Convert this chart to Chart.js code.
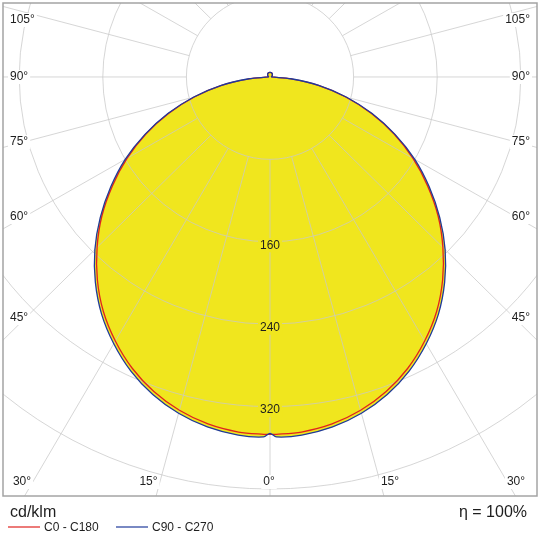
<!DOCTYPE html>
<html>
<head>
<meta charset="utf-8">
<script src="https://cdn.jsdelivr.net/npm/chart.js@4.4.1/dist/chart.umd.min.js"></script>
<style>
  html, body { margin: 0; padding: 0; background: #fff; }
</style>
</head>
<body>
<canvas id="polarChart" width="540" height="533"></canvas>
<script>
// Luminous intensity diagram (cd/klm)
// gamma = angle from nadir in degrees, both halves drawn mirrored
var gammaAngles = [0, 1, 5, 10, 15, 20, 25, 30, 35, 40, 45, 50, 55, 60, 65, 70, 75, 80, 85, 90, 105, 120, 135, 150, 165, 180];
var c0c180 =      [347, 347, 346, 342, 335, 325, 312, 296, 278, 257, 234, 210, 184, 158, 131, 103, 75, 47, 19, 1.5, 1.5, 2.5, 3.2, 4, 4.3, 4.5];
var c90c270 =     [346, 349.5, 349, 345, 338, 328, 315, 299, 281, 260, 237, 212, 186, 160, 132, 104, 76, 48, 20, 1.5, 1.5, 2.5, 3.2, 4, 4.3, 4.5];

var ringValues = [80, 160, 240, 320, 400];
var ringLabelValues = [160, 240, 320];
var spokeStep = 15;
var sideLabels = ['105°', '90°', '75°', '60°', '45°'];
var bottomLabels = ['30°', '15°', '0°', '15°', '30°'];
var seriesNames = ['C0 - C180', 'C90 - C270'];
var unitLabel = 'cd/klm';
var efficiencyLabel = 'η = 100%';

var fillColor = '#f0e61e';
var redColor = '#e0231f';
var blueColor = '#1f3a9a';
var gridColor = 'rgba(200,200,200,0.75)';
var textColor = '#1e1e1e';

// polar (gamma, I) -> x/y in cd/klm
// path runs from the top down the left half and back up the right half,
// so the nadir sits mid-path and gets smoothed like the rest
function polarPoints(values) {
  var pts = [];
  for (var j = gammaAngles.length - 1; j >= 0; j--) {
    var b = gammaAngles[j] * Math.PI / 180;
    pts.push({ x: -values[j] * Math.sin(b), y: -values[j] * Math.cos(b) });
  }
  for (var i = 1; i < gammaAngles.length; i++) {
    var a = gammaAngles[i] * Math.PI / 180;
    pts.push({ x: values[i] * Math.sin(a), y: -values[i] * Math.cos(a) });
  }
  return pts;
}

function labelBox(ctx, text, x, y, align, bg) {
  var w = ctx.measureText(text).width;
  var left = align === 'left' ? x : (align === 'right' ? x - w : x - w / 2);
  ctx.fillStyle = bg;
  ctx.fillRect(left - 2, y - 7, w + 4, 14);
  ctx.fillStyle = textColor;
  ctx.textAlign = align;
  ctx.fillText(text, x, y);
}

// grid rings + spokes, drawn right after the yellow fill so curves stay on top
var polarGrid = {
  id: 'polarGrid',
  afterDatasetDraw: function (chart, args) {
    if (args.index !== 0) return;
    var ctx = chart.ctx, xs = chart.scales.x, ys = chart.scales.y, area = chart.chartArea;
    var cx = xs.getPixelForValue(0), cy = ys.getPixelForValue(0);
    ctx.save();
    ctx.beginPath();
    ctx.rect(area.left, area.top, area.right - area.left, area.bottom - area.top);
    ctx.clip();
    ctx.strokeStyle = gridColor;
    ctx.lineWidth = 1;
    ringValues.forEach(function (r) {
      ctx.beginPath();
      ctx.ellipse(cx, cy, xs.getPixelForValue(r) - cx, ys.getPixelForValue(-r) - cy, 0, 0, Math.PI * 2);
      ctx.stroke();
    });
    var r0 = ringValues[0], r1 = 700;
    for (var a = 0; a < 360; a += spokeStep) {
      var rad = a * Math.PI / 180, s = Math.sin(rad), c = Math.cos(rad);
      ctx.beginPath();
      ctx.moveTo(xs.getPixelForValue(r0 * s), ys.getPixelForValue(-r0 * c));
      ctx.lineTo(xs.getPixelForValue(r1 * s), ys.getPixelForValue(-r1 * c));
      ctx.stroke();
    }
    ctx.font = '12px "Liberation Sans", Arial, sans-serif';
    ctx.textBaseline = 'middle';
    ringLabelValues.forEach(function (r) {
      labelBox(ctx, String(r), cx, ys.getPixelForValue(-r) + 3.5, 'center', fillColor);
    });
    ctx.restore();
  },
  afterDraw: function (chart) {
    var ctx = chart.ctx, area = chart.chartArea;
    ctx.save();
    ctx.font = '12px "Liberation Sans", Arial, sans-serif';
    ctx.textBaseline = 'middle';
    var sideY = [20, 77, 142, 217, 318];
    sideLabels.forEach(function (t, i) {
      labelBox(ctx, t, area.left + 7, sideY[i], 'left', '#ffffff');
      labelBox(ctx, t, area.right - 7, sideY[i], 'right', '#ffffff');
    });
    var bottomX = [22, 148.5, 269, 390, 516];
    bottomLabels.forEach(function (t, i) {
      labelBox(ctx, t, bottomX[i], 482, 'center', '#ffffff');
    });

    // frame
    ctx.strokeStyle = '#a4a4a4';
    ctx.lineWidth = 1.5;
    ctx.strokeRect(area.left, area.top, area.right - area.left, area.bottom - area.top);

    // units, efficiency and legend under the frame
    ctx.textBaseline = 'alphabetic';
    ctx.fillStyle = textColor;
    ctx.font = '16px "Liberation Sans", Arial, sans-serif';
    ctx.textAlign = 'left';
    ctx.fillText(unitLabel, 10, 517);
    ctx.textAlign = 'right';
    ctx.fillText(efficiencyLabel, 527, 517);

    ctx.font = '12px "Liberation Sans", Arial, sans-serif';
    ctx.textAlign = 'left';
    var legendX = [8, 116], colors = [redColor, blueColor];
    seriesNames.forEach(function (name, i) {
      ctx.strokeStyle = colors[i];
      ctx.lineWidth = 1.2;
      ctx.beginPath();
      ctx.moveTo(legendX[i], 527);
      ctx.lineTo(legendX[i] + 32, 527);
      ctx.stroke();
      ctx.fillStyle = textColor;
      ctx.fillText(name, legendX[i] + 36, 531);
    });
    ctx.restore();
  }
};

document.addEventListener('DOMContentLoaded', function () {
  var canvas = document.getElementById('polarChart');
  var ctx = canvas.getContext('2d');
  new Chart(ctx, {
    type: 'scatter',
    data: {
      datasets: [
        {
          label: 'fill',
          data: polarPoints(c90c270),
          showLine: true,
          fill: 'shape',
          backgroundColor: fillColor,
          borderWidth: 0,
          order: 3
        },
        {
          label: seriesNames[0],
          data: polarPoints(c0c180),
          showLine: true,
          borderColor: redColor,
          borderWidth: 1.3,
          order: 2
        },
        {
          label: seriesNames[1],
          data: polarPoints(c90c270),
          showLine: true,
          borderColor: blueColor,
          borderWidth: 1.3,
          order: 1
        }
      ]
    },
    options: {
      responsive: false,
      animation: false,
      layout: { padding: { left: 3, top: 3, right: 3, bottom: 37 } },
      elements: { point: { radius: 0, hoverRadius: 0 }, line: { tension: 0.3 } },
      plugins: {
        legend: { display: false },
        tooltip: { enabled: false }
      },
      scales: {
        x: { type: 'linear', min: -255.5, max: 255.5, display: false },
        y: { type: 'linear', min: -406.8, max: 71.8, display: false }
      }
    },
    plugins: [polarGrid]
  });
});
</script>
</body>
</html>
